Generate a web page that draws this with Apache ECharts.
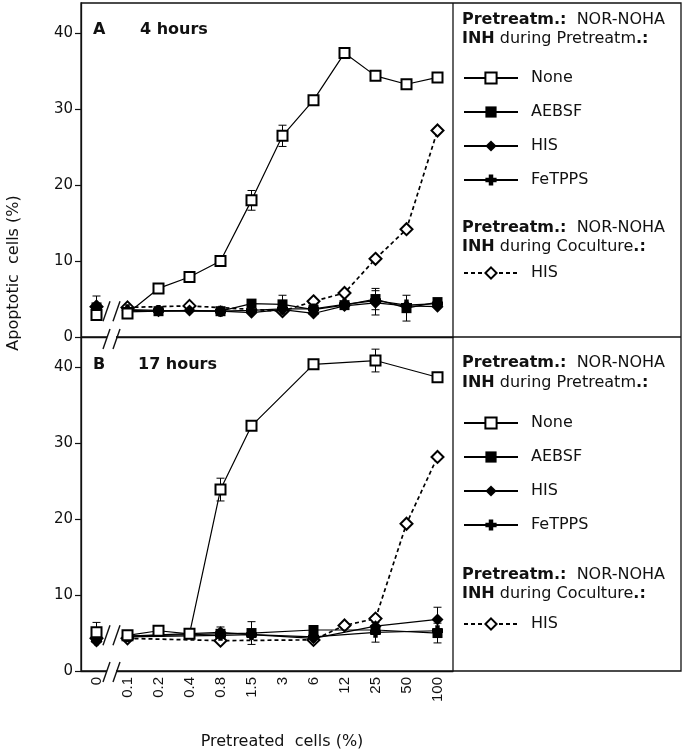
<!DOCTYPE html>
<html><head><meta charset="utf-8">
<script src="https://cdn.jsdelivr.net/npm/echarts@6/dist/echarts.min.js"></script>
<style>html,body{margin:0;padding:0;background:#fff}#c{width:688px;height:754px}</style>
</head><body><div id="c"></div>
<script>
// ---------- data ----------
const categories = ['0','0.1','0.2','0.4','0.8','1.5','3','6','12','25','50','100'];
const yTicks = [0, 10, 20, 30, 40];

// Panel A: 4 hours
const noneA    = [2.9, 3.1, 6.4, 7.9, 10.0, 18.0, 26.5, 31.2, 37.4, 34.4, 33.3, 34.2];
const aebsfA   = [3.9, 3.3, 3.4, null, 3.4, 4.4, 4.3, 3.6, 4.2, 5.0, 3.8, 4.6];
const hisA     = [4.1, 3.5, 3.4, 3.5, 3.4, 3.2, 3.6, 3.1, 4.1, 4.5, 4.1, 4.0];
const fetppsA  = [3.7, 3.6, 3.5, null, 3.4, 3.5, 3.7, 3.7, 4.3, 4.8, 4.2, 4.4];
const hisCocA  = [4.0, 3.9, null, 4.1, null, null, 3.4, 4.7, 5.8, 10.3, 14.2, 27.2];
const noneAErr  = [null, null, null, null, null, 1.3, 1.4, null, null, null, null, null];
const aebsfAErr = [1.5, null, null, null, null, null, 1.2, null, null, 1.4, 1.7, null];
const hisAErr   = [null, null, null, null, null, null, null, null, null, 1.6, null, null];

// Panel B: 17 hours
const noneB    = [5.1, 4.7, 5.3, 4.9, 23.9, 32.3, null, 40.4, null, 40.9, null, 38.7];
const aebsfB   = [4.4, 4.6, null, null, 4.9, 5.0, null, 5.4, null, 5.4, null, 5.0];
const hisB     = [3.9, 4.6, null, null, 5.1, 4.8, null, 4.3, null, 5.9, null, 6.8];
const fetppsB  = [4.1, 4.5, null, null, 4.7, 4.8, null, 4.5, null, 5.1, null, 5.3];
const hisCocB  = [4.3, 4.3, null, null, 4.0, null, null, 4.1, 6.0, 6.9, 19.4, 28.2];
const noneBErr   = [1.3, null, null, null, 1.5, null, null, null, null, 1.5, null, null];
const aebsfBErr  = [null, null, null, null, null, 1.5, null, null, null, null, null, 1.3];
const hisBErr    = [null, null, null, null, 0.7, null, null, null, null, null, null, 1.6];
const fetppsBErr = [null, null, null, null, null, null, null, null, null, 1.3, null, null];

// ---------- layout ----------
const L = {left: 81, width: 372, topA: 3, topB: 337, h: 334, boxRight: 681, yMax: 44};
const FONT = 'DejaVu Sans';
const INK = '#111';

const chart = echarts.init(document.getElementById('c'), null, {renderer: 'canvas'});

function xAxis(gi, showLabels) {
  return {type: 'category', gridIndex: gi, data: categories, boundaryGap: true,
    axisLine: {lineStyle: {color: INK, width: 1.3}},
    axisTick: {alignWithLabel: true, length: 6, lineStyle: {color: INK, width: 1.2}},
    axisLabel: {show: showLabels, rotate: 90, margin: 6, fontFamily: 'Liberation Sans', fontSize: 15, color: INK},
    splitLine: {show: false}};
}
function yAxis(gi) {
  return {type: 'value', gridIndex: gi, min: 0, max: L.yMax, interval: 10,
    axisLine: {show: true, lineStyle: {color: INK, width: 1.3}},
    axisTick: {show: true, length: 6, customValues: yTicks, lineStyle: {color: INK, width: 1.2}},
    axisLabel: {customValues: yTicks, margin: 8, fontFamily: FONT, fontSize: 15, color: INK},
    splitLine: {show: false}};
}

const STY = {
  none:   {symbol: 'emptyRect', size: 10},
  aebsf:  {symbol: 'rect', size: 10},
  his:    {symbol: 'diamond', size: 12},
  fetpps: {symbol: 'path://M3,0H7V3H10V7H7V10H3V7H0V3H3Z', size: 11},
  coc:    {symbol: 'emptyDiamond', size: 12, dashed: true}
};

function mk(name, arr, gi, st, z) {
  const common = {type: 'line', xAxisIndex: gi, yAxisIndex: gi, symbol: st.symbol, symbolSize: st.size,
    showSymbol: true, showAllSymbol: true, connectNulls: true, z: z, silent: true,
    lineStyle: {color: '#000', width: st.dashed ? 1.7 : 1.2, type: st.dashed ? [4, 3] : 'solid'},
    itemStyle: {color: '#000', borderColor: '#000', borderWidth: st.symbol.indexOf('empty') === 0 ? 1.3 : 0},
    emphasis: {disabled: true}};
  return [
    Object.assign({name: name, data: arr.map((v, i) => i === 0 ? null : v)}, common),
    Object.assign({name: name + '-0', data: arr.map((v, i) => i === 0 ? v : null)}, common)
  ];
}

function renderErr(params, api) {
  const i = api.value(0), v = api.value(1), e = api.value(2);
  const top = api.coord([i, v + e]), bot = api.coord([i, v - e]);
  const w = 4, st = {stroke: '#000', lineWidth: 1};
  return {type: 'group', children: [
    {type: 'line', shape: {x1: top[0], y1: top[1], x2: bot[0], y2: bot[1]}, style: st},
    {type: 'line', shape: {x1: top[0] - w, y1: top[1], x2: top[0] + w, y2: top[1]}, style: st},
    {type: 'line', shape: {x1: bot[0] - w, y1: bot[1], x2: bot[0] + w, y2: bot[1]}, style: st}
  ]};
}
function errSeries(gi, pairs) {
  const data = [];
  pairs.forEach(([vals, errs]) => errs.forEach((e, i) => { if (e != null && vals[i] != null) data.push([i, vals[i], e]); }));
  return {type: 'custom', xAxisIndex: gi, yAxisIndex: gi, data: data, renderItem: renderErr, z: 1, silent: true,
    encode: {x: 0, y: 1}};
}

function legend(names, top) {
  return {data: names, left: 463, top: top, orient: 'vertical', itemWidth: 54, itemHeight: 14, itemGap: 18,
    padding: 0, selectedMode: false, formatter: n => n.trim(),
    textStyle: {fontFamily: FONT, fontSize: 16, color: INK, padding: [0, 0, 0, 8]}};
}

const series = [
  errSeries(0, [[noneA, noneAErr], [aebsfA, aebsfAErr], [hisA, hisAErr]]),
  errSeries(1, [[noneB, noneBErr], [aebsfB, aebsfBErr], [hisB, hisBErr], [fetppsB, fetppsBErr]]),
  ...mk('HIS ', hisCocA, 0, STY.coc, 2),
  ...mk('FeTPPS', fetppsA, 0, STY.fetpps, 3),
  ...mk('HIS', hisA, 0, STY.his, 4),
  ...mk('AEBSF', aebsfA, 0, STY.aebsf, 5),
  ...mk('None', noneA, 0, STY.none, 6),
  ...mk('HIS ', hisCocB, 1, STY.coc, 2),
  ...mk('FeTPPS', fetppsB, 1, STY.fetpps, 3),
  ...mk('HIS', hisB, 1, STY.his, 4),
  ...mk('AEBSF', aebsfB, 1, STY.aebsf, 5),
  ...mk('None', noneB, 1, STY.none, 6)
];

chart.setOption({
  animation: false,
  backgroundColor: '#fff',
  grid: [{left: L.left, top: L.topA, width: L.width, height: L.h},
         {left: L.left, top: L.topB, width: L.width, height: L.h}],
  xAxis: [xAxis(0, false), xAxis(1, true)],
  yAxis: [yAxis(0), yAxis(1)],
  legend: [
    legend(['None', 'AEBSF', 'HIS', 'FeTPPS'], 70),
    legend(['HIS '], 265),
    legend(['None', 'AEBSF', 'HIS', 'FeTPPS'], 415),
    legend(['HIS '], 616)
  ],
  series: series
});

// ---------- decorations ----------
const rich = {
  b: {fontFamily: FONT, fontSize: 16, fontWeight: 'bold', fill: INK},
  n: {fontFamily: FONT, fontSize: 16, fill: INK}
};
function txt(x, y, text, extra) {
  return Object.assign({type: 'text', z: 100, style: {x: x, y: y, text: text, rich: rich, verticalAlign: 'middle',
    fontFamily: FONT, fontSize: 16, fill: INK}}, extra || {});
}
function line(x1, y1, x2, y2, w) {
  return {type: 'line', z: 90, shape: {x1, y1, x2, y2}, style: {stroke: INK, lineWidth: w || 1.3}};
}
function brk(cx, cy, cut) {
  const els = [];
  if (cut) els.push({type: 'rect', z: 91, shape: {x: cx - 5, y: cy - 3, width: 9, height: 6}, style: {fill: '#fff'}});
  els.push({type: 'line', z: 92, shape: {x1: cx - 9, y1: cy + 10, x2: cx - 2, y2: cy - 10}, style: {stroke: INK, lineWidth: 1.4}});
  els.push({type: 'line', z: 92, shape: {x1: cx + 1, y1: cy + 10, x2: cx + 8, y2: cy - 10}, style: {stroke: INK, lineWidth: 1.4}});
  return els;
}
const bottomA = L.topA + L.h, bottomB = L.topB + L.h;
const divX = L.left + L.width;
const breakX = L.left + L.width / categories.length;
const dataBreakA = chart.convertToPixel({yAxisIndex: 0}, 3.4);
const dataBreakB = chart.convertToPixel({yAxisIndex: 1}, 4.7);

const lg = 462;
const graphic = [
  {type: 'rect', z: 90, shape: {x: L.left, y: L.topA, width: L.boxRight - L.left, height: bottomB - L.topA},
    style: {fill: null, stroke: INK, lineWidth: 1.3}},
  line(divX, L.topA, divX, bottomB),
  line(L.left, bottomA, L.boxRight, bottomA),
  ...brk(breakX, bottomA + 2, true),
  ...brk(breakX, bottomB + 1, true),
  ...brk(breakX, dataBreakA, false),
  ...brk(breakX, dataBreakB, false),
  txt(93, 30, '{b|A}'), txt(140, 30, '{b|4 hours}'),
  txt(93, 365, '{b|B}'), txt(138, 365, '{b|17 hours}'),
  txt(lg, 20, '{b|Pretreatm.:}{n|  NOR-NOHA}'),
  txt(lg, 39, '{b|INH}{n| during Pretreatm}{b|.:}'),
  txt(lg, 228, '{b|Pretreatm.:}{n|  NOR-NOHA}'),
  txt(lg, 247, '{b|INH}{n| during Coculture}{b|.:}'),
  txt(lg, 363, '{b|Pretreatm.:}{n|  NOR-NOHA}'),
  txt(lg, 383, '{b|INH}{n| during Pretreatm}{b|.:}'),
  txt(lg, 575, '{b|Pretreatm.:}{n|  NOR-NOHA}'),
  txt(lg, 594, '{b|INH}{n| during Coculture}{b|.:}'),
  {type: 'text', z: 100, x: 14, y: 273, rotation: Math.PI / 2,
    style: {x: 0, y: 0, text: 'Apoptotic  cells (%)', align: 'center', verticalAlign: 'middle',
      fontFamily: FONT, fontSize: 16, fill: INK}},
  {type: 'text', z: 100, style: {x: 282, y: 742, text: 'Pretreated  cells (%)', align: 'center', verticalAlign: 'middle',
      fontFamily: FONT, fontSize: 16, fill: INK}}
];
chart.setOption({graphic: graphic});
</script>
</body></html>
